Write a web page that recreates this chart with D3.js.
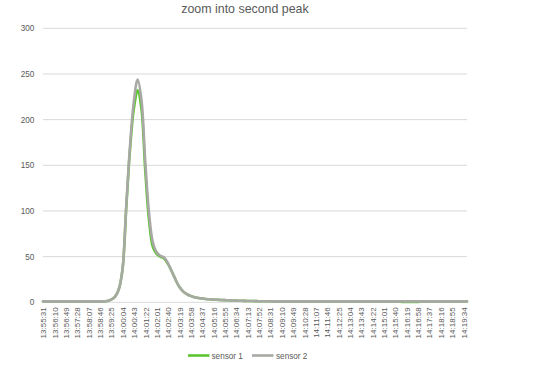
<!DOCTYPE html>
<html>
<head>
<meta charset="utf-8">
<script src="https://cdn.jsdelivr.net/npm/d3@7/dist/d3.min.js"></script>
<style>
  html, body { margin: 0; padding: 0; background: #fff; }
  svg { display: block; font-family: "Liberation Sans", Arial, sans-serif; }
</style>
</head>
<body>
<svg id="chart" width="550" height="369"></svg>
<script>
// ---- data ----
const title = "zoom into second peak";
const seriesNames = ["sensor 1", "sensor 2"];
const tickLabels = ["13:55:31","13:56:10","13:56:49","13:57:28","13:58:07","13:58:46","13:59:25",
  "14:00:04","14:00:43","14:01:22","14:02:01","14:02:40","14:03:19","14:03:58","14:04:37",
  "14:05:16","14:05:55","14:06:34","14:07:13","14:07:52","14:08:31","14:09:10","14:09:49",
  "14:10:28","14:11:07","14:11:46","14:12:25","14:13:04","14:13:43","14:14:22","14:15:01",
  "14:15:40","14:16:19","14:16:58","14:17:37","14:18:16","14:18:55","14:19:34"];
const yTicks = [0, 50, 100, 150, 200, 250, 300];

const sensor1 = [
  1,1,1,1,1,1,1,1,1,1,1,1,1,1,1,1,1,
  1.5,3,6,14,36,104,168,212,232,212,145,90,61,53,50,48,42,34,25,17,12,9,7,5.5,4.8,4.2,3.7,3.3,3,2.8,2.6,2.4,2.2,2,
  1.8,1.7,1.6,1.5,1.4,1.3,1.2,1.2,1.1,1.1,
  1,1,1,1,1,1,1,1,1,1,1,1,1,1,1,1,1,1,1,1,1,1,1,1,1,1,1,1,1,1,1,1,1,1,
  0.4,0.4,0.4,0.4,0.4,
  1,1,1,1,1,1,1,1,1,1,1,1,1
];
const sensor2 = [
  1,1,1,1,1,1,1,1,1,1,1,1,1,1,1,1,1,
  1.5,3,6,14,36,106,172,220,244,222,155,98,66,55,51,49,43,34,25,17,12,9,7,5.5,4.8,4.2,3.7,3.3,3,2.8,2.6,2.4,2.2,2,
  1.8,1.7,1.6,1.5,1.4,1.3,1.2,1.2,1.1,1.1,
  1,1,1,1,1,1,1,1,1,1,1,1,1,1,1,1,1,1,1,1,1,1,1,1,1,1,1,1,1,1,1,1,1,1,
  1,1,1,1,1,
  1,1,1,1,1,1,1,1,1,1,1,1,1
];
const labelEvery = 3;
const colors = ["#5cc530", "#a8a8a4"];

// ---- chart ----
const svg = d3.select("#chart");
const plotLeft = 43, plotRight = 467, plotTop = 28.3, plotBottom = 302.3;
const n = sensor2.length;

const x = d3.scaleLinear().domain([0, n - 1]).range([plotLeft, plotRight]);
const y = d3.scaleLinear().domain([0, 300]).range([plotBottom, plotTop]);

// gridlines
svg.append("g")
  .selectAll("line").data(yTicks).join("line")
  .attr("x1", plotLeft).attr("x2", plotRight)
  .attr("y1", d => y(d)).attr("y2", d => y(d))
  .attr("stroke", "#d9d9d9").attr("stroke-width", 1);

// y axis labels
const yAxis = d3.axisLeft(y).tickValues(yTicks).tickSize(0).tickPadding(0);
const yg = svg.append("g").attr("transform", `translate(${plotLeft - 8.7},0)`).call(yAxis);
yg.select(".domain").remove();
yg.selectAll("text").attr("fill", "#595959").attr("font-size", "8.2px")
  .attr("font-family", "'Liberation Sans', Arial, sans-serif");

// x axis labels (rotated)
const tickIdx = tickLabels.map((_, i) => i * labelEvery);
const xAxis = d3.axisBottom(x).tickValues(tickIdx).tickFormat((d, i) => tickLabels[i]).tickSize(0).tickPadding(0);
const xg = svg.append("g").attr("transform", `translate(0,${plotBottom})`).call(xAxis);
xg.select(".domain").remove();
xg.selectAll("text")
  .attr("fill", "#595959").attr("font-size", "8px")
  .attr("font-family", "'Liberation Sans', Arial, sans-serif")
  .attr("text-anchor", "end")
  .attr("transform", "translate(0,5) rotate(-90)")
  .attr("x", 0).attr("y", 0).attr("dy", "0.35em");

// lines
const line = d3.line().x((d, i) => x(i)).y(d => y(d)).curve(d3.curveCatmullRom.alpha(0.5));
[sensor1, sensor2].forEach((s, k) => {
  svg.append("path").datum(s)
    .attr("d", line)
    .attr("fill", "none")
    .attr("stroke", colors[k])
    .attr("stroke-width", 2.6)
    .attr("stroke-linejoin", "round")
    .attr("stroke-linecap", "round");
});

// title
svg.append("text").attr("x", 245).attr("y", 12.5)
  .attr("text-anchor", "middle").attr("fill", "#595959")
  .attr("font-size", "12.4px").text(title);

// legend
const legendItems = [{x: 188, tx: 211.5}, {x: 252, tx: 276}];
legendItems.forEach((p, k) => {
  svg.append("line").attr("x1", p.x).attr("x2", p.x + 21.5)
    .attr("y1", 355.5).attr("y2", 355.5)
    .attr("stroke", colors[k]).attr("stroke-width", 2.6);
  svg.append("text").attr("x", p.tx).attr("y", 358.5)
    .attr("fill", "#595959").attr("font-size", "8.2px")
    .text(seriesNames[k]);
});
</script>
</body>
</html>
